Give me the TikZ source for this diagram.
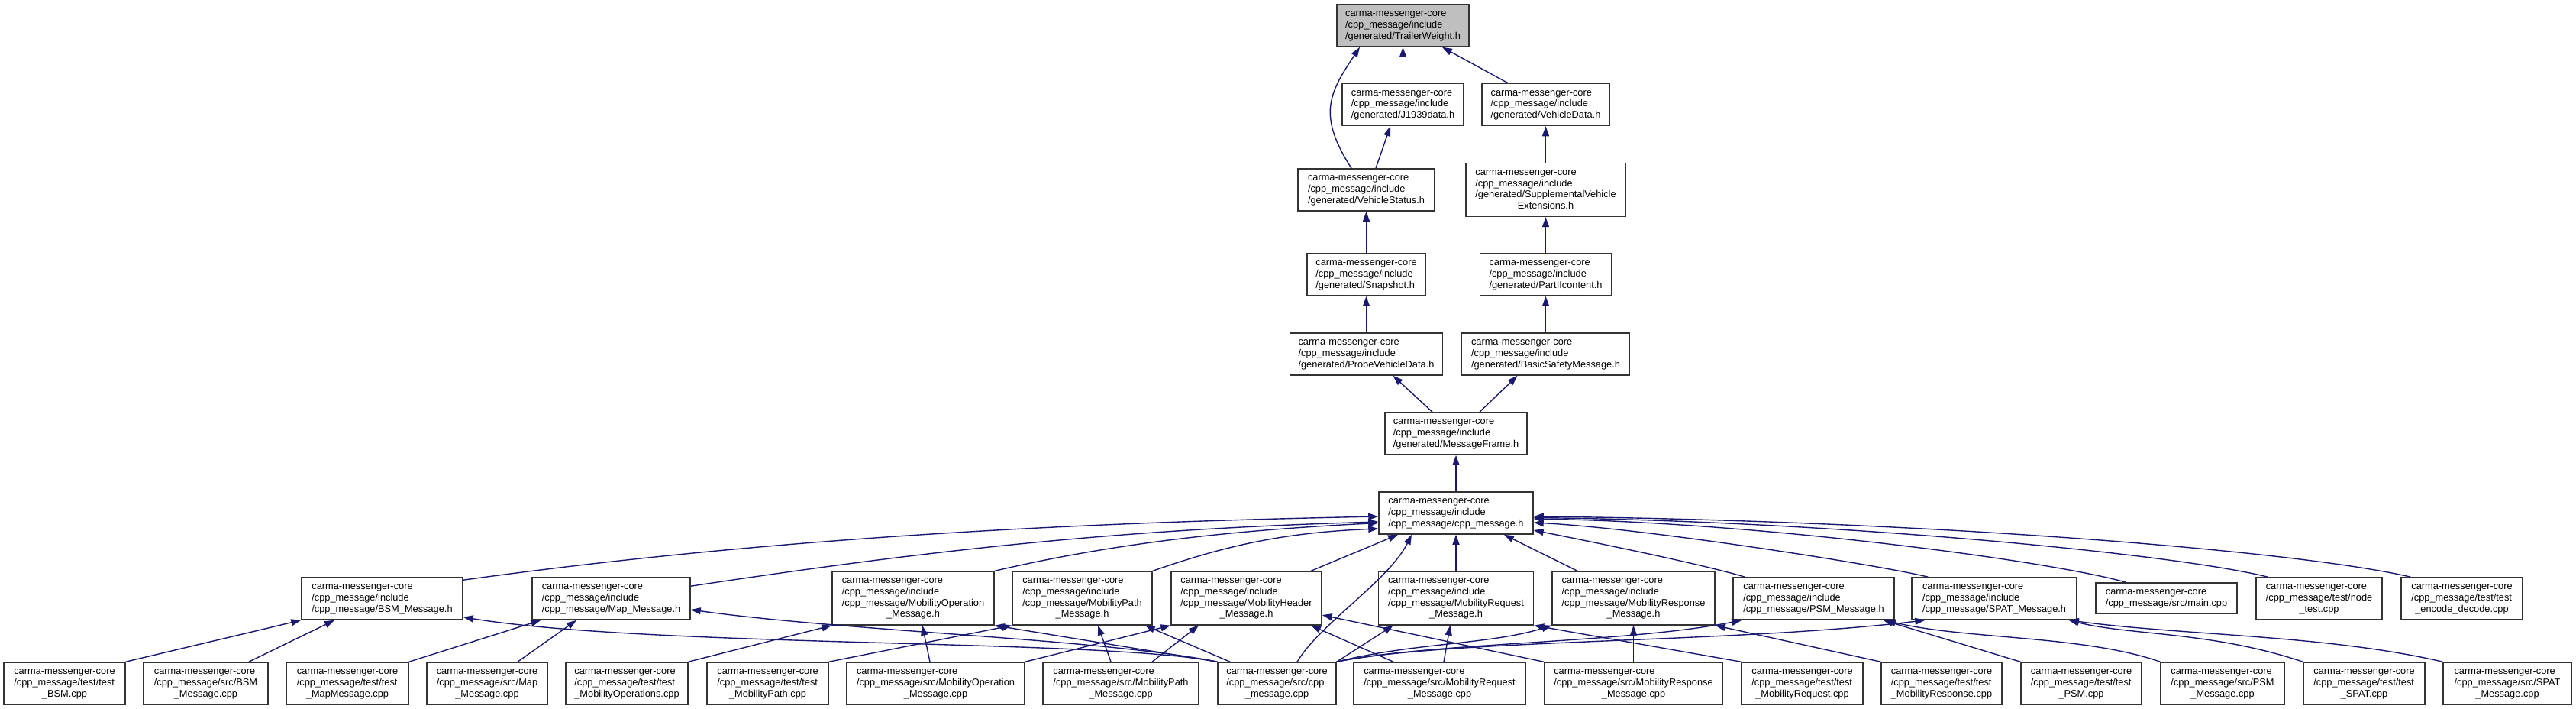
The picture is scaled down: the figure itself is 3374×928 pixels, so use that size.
\documentclass[tikz,border=0pt]{standalone}
\usepackage{fontspec}
\setmainfont{Liberation Sans}
\usetikzlibrary{arrows.meta,calc}
\definecolor{navyline}{HTML}{191970}
\definecolor{focus}{HTML}{BFBFBF}
% text blocks: left lines, optional centred last line
\newcommand{\flines}[1]{\begin{tabular}{@{}l@{}}#1\end{tabular}}
\newcommand{\fwrap}[2]{\begin{tabular}{@{}l@{}}#1\\\multicolumn{1}{@{}c@{}}{#2}\end{tabular}}
\newcommand{\gen}[1]{\flines{carma-messenger-core\\/cpp\_message/include\\/generated/#1}}
\newcommand{\inc}[1]{\flines{carma-messenger-core\\/cpp\_message/include\\/cpp\_message/#1}}
\newcommand{\incw}[1]{\fwrap{carma-messenger-core\\/cpp\_message/include\\/cpp\_message/#1}{\_Message.h}}

\begin{document}
\begin{tikzpicture}[x=1pt, y=-1pt,
    hdr/.style={draw=black!80, line width=1.5pt, fill=white, inner xsep=0pt, inner ysep=5.5pt,
      minimum width=#1pt, font={\fontsize{12.8}{14.7}\selectfont}},
    dep/.style={navyline, line width=1.4pt, -{Triangle[length=13pt,width=9pt]}}]
  \useasboundingbox (0,0) rectangle (3374,928);

  % generated headers
  \node[hdr=173, fill=focus] (trailer)  at (1837.5,33.5) {\gen{TrailerWeight.h}};
  \node[hdr=159] (j1939)    at (1837.5,137)   {\gen{J1939data.h}};
  \node[hdr=167] (vdata)    at (2024.5,137)   {\gen{VehicleData.h}};
  \node[hdr=179] (vstatus)  at (1789.5,248.5) {\gen{VehicleStatus.h}};
  \node[hdr=209] (sve)      at (2024.5,248.5) {\fwrap{carma-messenger-core\\/cpp\_message/include\\/generated/SupplementalVehicle}{Extensions.h}};
  \node[hdr=155] (snapshot) at (1789.5,359.5) {\gen{Snapshot.h}};
  \node[hdr=172] (partii)   at (2024.5,359.5) {\gen{PartIIcontent.h}};
  \node[hdr=200] (probe)    at (1789.5,463.5) {\gen{ProbeVehicleData.h}};
  \node[hdr=220] (basic)    at (2024.5,463.5) {\gen{BasicSafetyMessage.h}};
  \node[hdr=186] (mframe)   at (1907,567.5)   {\gen{MessageFrame.h}};
  \node[hdr=202] (cpph)     at (1907,671.5)   {\inc{cpp\_message.h}};

  % message headers and other includers
  \node[hdr=211] (bsmh)   at (500.5,783.5)  {\inc{BSM\_Message.h}};
  \node[hdr=207] (maph)   at (800.5,783.5)  {\inc{Map\_Message.h}};
  \node[hdr=212] (mopH)   at (1196,783)     {\incw{MobilityOperation}};
  \node[hdr=183] (mpathH) at (1417.5,783)   {\incw{MobilityPath}};
  \node[hdr=197] (mheadH) at (1632.5,783)   {\incw{MobilityHeader}};
  \node[hdr=203] (mreqH)  at (1907,783)     {\incw{MobilityRequest}};
  \node[hdr=213] (mrespH) at (2139.5,783)   {\incw{MobilityResponse}};
  \node[hdr=211] (psmh)   at (2375.5,783.5) {\inc{PSM\_Message.h}};
  \node[hdr=216] (spath)  at (2612,783.5)   {\inc{SPAT\_Message.h}};
  \node[hdr=185] (mainc)  at (2837.5,783)   {\flines{carma-messenger-core\\/cpp\_message/src/main.cpp}};
  \node[hdr=165] (nodet)  at (3037.5,783.5) {\fwrap{carma-messenger-core\\/cpp\_message/test/node}{\_test.cpp}};
  \node[hdr=159] (encdec) at (3224.5,783.5) {\fwrap{carma-messenger-core\\/cpp\_message/test/test}{\_encode\_decode.cpp}};

  % sources and tests
  \node[hdr=159] (tbsm)   at (84.5,894.5)   {\fwrap{carma-messenger-core\\/cpp\_message/test/test}{\_BSM.cpp}};
  \node[hdr=163] (sbsm)   at (269.5,894.5)  {\fwrap{carma-messenger-core\\/cpp\_message/src/BSM}{\_Message.cpp}};
  \node[hdr=160] (tmap)   at (455,894.5)    {\fwrap{carma-messenger-core\\/cpp\_message/test/test}{\_MapMessage.cpp}};
  \node[hdr=158] (smap)   at (638,894.5)    {\fwrap{carma-messenger-core\\/cpp\_message/src/Map}{\_Message.cpp}};
  \node[hdr=160] (tmop)   at (821,894.5)    {\fwrap{carma-messenger-core\\/cpp\_message/test/test}{\_MobilityOperations.cpp}};
  \node[hdr=159] (tmpath) at (1005.5,894.5) {\fwrap{carma-messenger-core\\/cpp\_message/test/test}{\_MobilityPath.cpp}};
  \node[hdr=233] (smop)   at (1225.5,894.5) {\fwrap{carma-messenger-core\\/cpp\_message/src/MobilityOperation}{\_Message.cpp}};
  \node[hdr=204] (smpath) at (1468,894.5)   {\fwrap{carma-messenger-core\\/cpp\_message/src/MobilityPath}{\_Message.cpp}};
  \node[hdr=155] (scpp)   at (1672.5,894.5) {\fwrap{carma-messenger-core\\/cpp\_message/src/cpp}{\_message.cpp}};
  \node[hdr=225] (smreq)  at (1885.5,894.5) {\fwrap{carma-messenger-core\\/cpp\_message/src/MobilityRequest}{\_Message.cpp}};
  \node[hdr=234] (smresp) at (2139.5,894.5) {\fwrap{carma-messenger-core\\/cpp\_message/src/MobilityResponse}{\_Message.cpp}};
  \node[hdr=159] (tmreq)  at (2360.5,894.5) {\fwrap{carma-messenger-core\\/cpp\_message/test/test}{\_MobilityRequest.cpp}};
  \node[hdr=158] (tmresp) at (2543,894.5)   {\fwrap{carma-messenger-core\\/cpp\_message/test/test}{\_MobilityResponse.cpp}};
  \node[hdr=158] (tpsm)   at (2726,894.5)   {\fwrap{carma-messenger-core\\/cpp\_message/test/test}{\_PSM.cpp}};
  \node[hdr=162] (spsm)   at (2911,894.5)   {\fwrap{carma-messenger-core\\/cpp\_message/src/PSM}{\_Message.cpp}};
  \node[hdr=159] (tspat)  at (3096.5,894.5) {\fwrap{carma-messenger-core\\/cpp\_message/test/test}{\_SPAT.cpp}};
  \node[hdr=168] (sspat)  at (3284,894.5)   {\fwrap{carma-messenger-core\\/cpp\_message/src/SPAT}{\_Message.cpp}};

  % upper chain
  \draw[dep] (j1939.north) -- (trailer.south);
  \draw[dep] ([xshift=-49.5pt]vdata.north) -- ([xshift=51.5pt]trailer.south);
  \draw[dep] ([xshift=-19.5pt]vstatus.north) .. controls +(-45,-70) and +(-40,60) .. ([xshift=-56.5pt]trailer.south);
  \draw[dep] ([xshift=12.5pt]vstatus.north) -- ([xshift=-16.5pt]j1939.south);
  \draw[dep] (sve.north) -- (vdata.south);
  \draw[dep] (snapshot.north) -- (vstatus.south);
  \draw[dep] (partii.north) -- (sve.south);
  \draw[dep] (probe.north) -- (snapshot.south);
  \draw[dep] (basic.north) -- (partii.south);
  \draw[dep] ([xshift=-31pt]mframe.north) -- ([xshift=35pt]probe.south);
  \draw[dep] ([xshift=31pt]mframe.north) -- ([xshift=-37pt]basic.south);
  \draw[dep] (cpph.north) -- (mframe.south);

  % into cpp_message.h
  \draw[dep] ([yshift=-4pt]bsmh.north east) .. controls +(400,-55) and +(-400,8) .. ([yshift=-4.5pt]cpph.west);
  \draw[dep] ([yshift=-12pt]maph.north east) .. controls +(300,-45) and +(-350,10) .. ([yshift=-11.5pt]cpph.west);
  \draw[dep] (mopH.north east) .. controls +(150,-35) and +(-200,10) .. ([yshift=-13pt]cpph.west);
  \draw[dep] (mpathH.north east) .. controls +(100,-35) and +(-120,5) .. ([yshift=-20.5pt]cpph.west);
  \draw[dep] ([xshift=84.5pt]mheadH.north) -- ([xshift=-76pt]cpph.south);
  \draw[dep] ([xshift=26.5pt]scpp.north) .. controls +(30,-50) and +(-30,60) .. ([xshift=-58pt]cpph.south);
  \draw[dep] (mreqH.north) -- (cpph.south);
  \draw[dep] ([xshift=-73.5pt]mrespH.north) -- ([xshift=63pt]cpph.south);
  \draw[dep] ([xshift=16pt]psmh.north west) .. controls +(-60,-18) and +(60,12) .. ([yshift=-22.5pt]cpph.east);
  \draw[dep] ([xshift=22pt]spath.north west) .. controls +(-60,-15) and +(150,8) .. ([yshift=-12.5pt]cpph.east);
  \draw[dep] ([xshift=-53.5pt]mainc.north) .. controls +(-100,-28) and +(300,5) .. ([yshift=-7.5pt]cpph.east);
  \draw[dep] ([xshift=16pt]nodet.north west) .. controls +(-120,-30) and +(400,5) .. ([yshift=-6pt]cpph.east);
  \draw[dep] ([xshift=13pt]encdec.north west) .. controls +(-150,-35) and +(500,5) .. ([yshift=-4.5pt]cpph.east);

  % into message headers
  \draw[dep] (tbsm.north east) -- (bsmh.south west);
  \draw[dep] ([xshift=56.5pt]sbsm.north) -- ([xshift=-62.5pt]bsmh.south);
  \draw[dep] (scpp.north west) .. controls +(-150,-30) and +(250,40) .. ([yshift=4pt]bsmh.south east);
  \draw[dep] (tmap.north east) -- ([xshift=12pt]maph.south west);
  \draw[dep] ([xshift=40pt]smap.north) -- ([xshift=-45.5pt]maph.south);
  \draw[dep] (scpp.north west) .. controls +(-150,-30) and +(200,28) .. ([yshift=-14.5pt]maph.east);
  \draw[dep] (tmop.north east) -- (mopH.south west);
  \draw[dep] ([xshift=-7.5pt]smop.north) -- ([xshift=12pt]mopH.south);
  \draw[dep] (scpp.north west) -- (mopH.south east);
  \draw[dep] (tmpath.north east) -- (mpathH.south west);
  \draw[dep] ([xshift=-13pt]smpath.north) -- ([xshift=20.5pt]mpathH.south);
  \draw[dep] ([xshift=-61.5pt]scpp.north) -- ([xshift=-10pt]mpathH.south east);
  \draw[dep] (smop.north east) -- (mheadH.south west);
  \draw[dep] ([xshift=41pt]smpath.north) -- ([xshift=-62.5pt]mheadH.south);
  \draw[dep] ([xshift=-60.5pt]smreq.north) -- ([xshift=84.5pt]mheadH.south);
  \draw[dep] (smresp.north west) -- ([yshift=-22pt]mheadH.east);
  \draw[dep] (scpp.north east) -- ([xshift=20pt]mreqH.south west);
  \draw[dep] ([xshift=5.5pt]smreq.north) -- ([xshift=-7.5pt]mreqH.south);
  \draw[dep] (tmreq.north west) -- (mreqH.south east);
  \draw[dep] (scpp.north east) .. controls +(100,-25) and +(-80,25) .. (mrespH.south west);
  \draw[dep] (smresp.north) -- (mrespH.south);
  \draw[dep] (tmresp.north west) -- (mrespH.south east);
  \draw[dep] (scpp.north east) .. controls +(120,-25) and +(-150,30) .. ([xshift=12pt]psmh.south west);
  \draw[dep] (tpsm.north west) -- ([xshift=-15pt]psmh.south east);
  \draw[dep] (spsm.north west) .. controls +(-100,-35) and +(100,25) .. ([xshift=-12pt]psmh.south east);
  \draw[dep] (scpp.north east) .. controls +(150,-30) and +(-250,30) .. ([xshift=18pt]spath.south west);
  \draw[dep] (tspat.north west) .. controls +(-120,-40) and +(80,20) .. ([xshift=-11pt]spath.south east);
  \draw[dep] (sspat.north west) .. controls +(-150,-35) and +(150,20) .. ([xshift=-11pt]spath.south east);
\end{tikzpicture}
\end{document}
